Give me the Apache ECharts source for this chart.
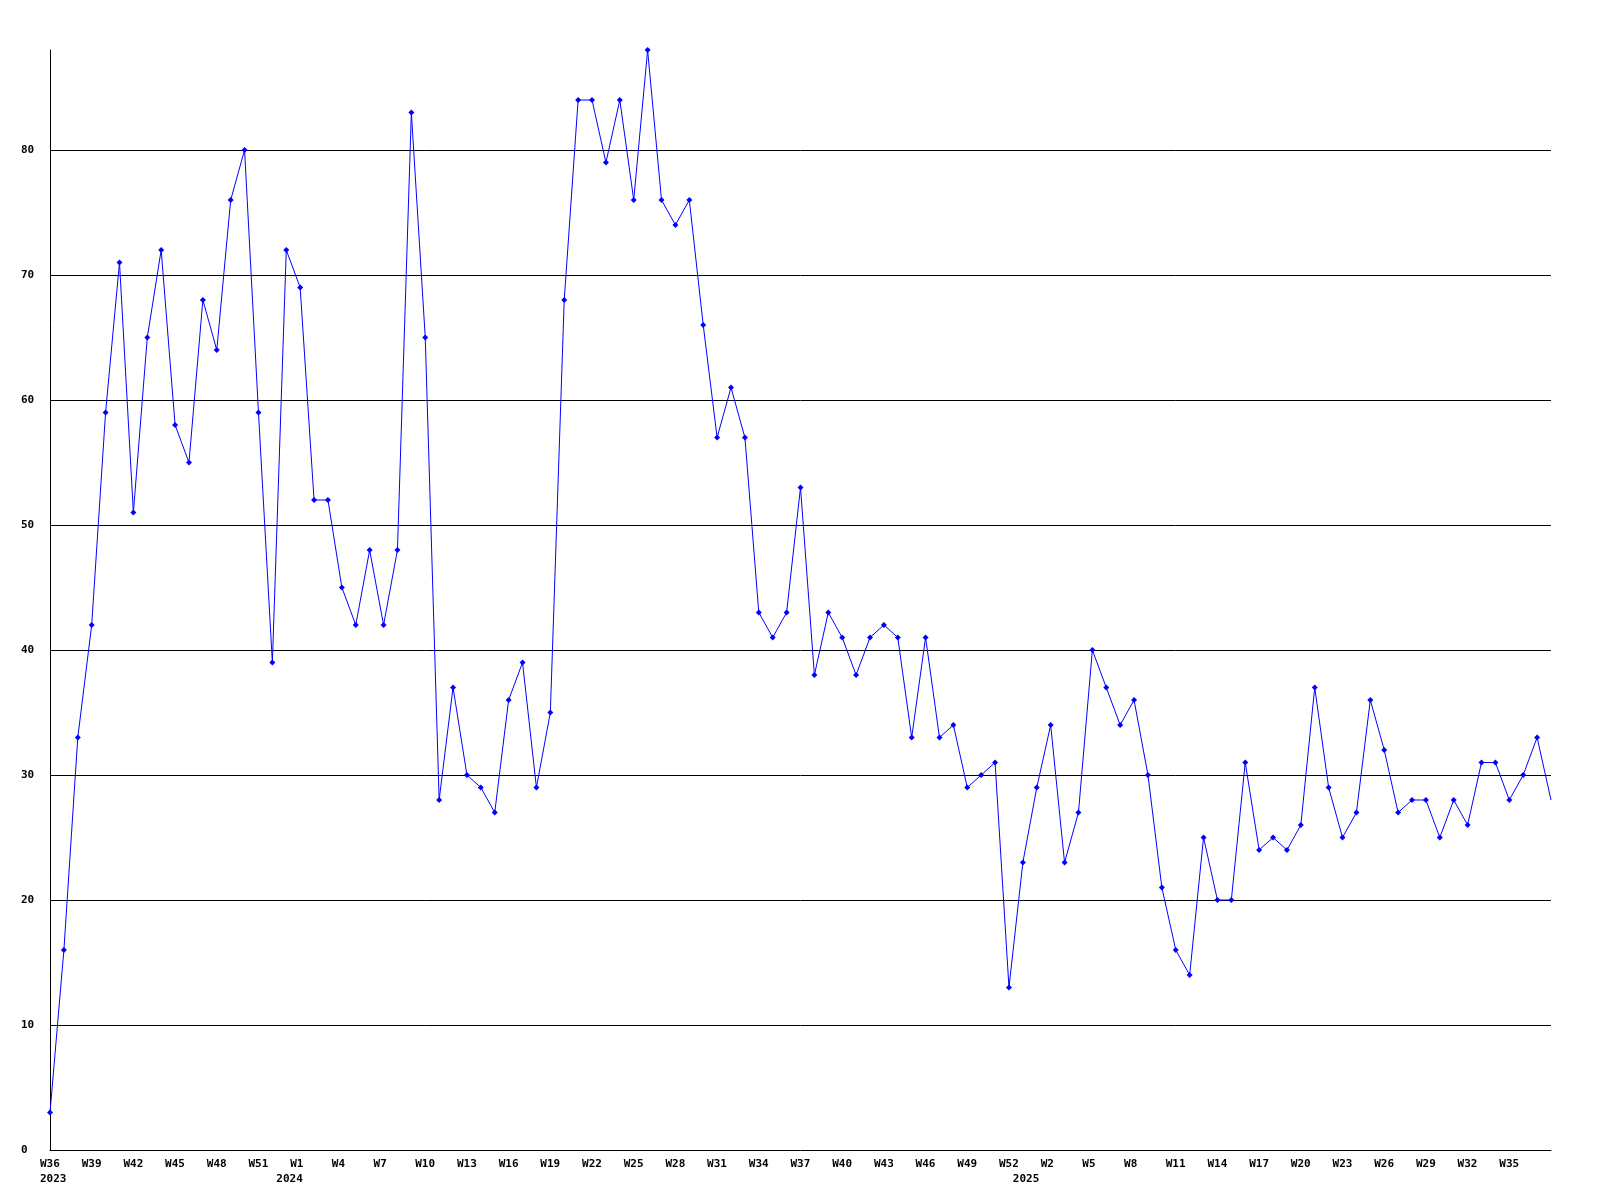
<!DOCTYPE html>
<html>
<head>
<meta charset="utf-8">
<script src="https://cdn.jsdelivr.net/npm/echarts@6/dist/echarts.min.js"></script>
<style>
  html, body { margin: 0; padding: 0; background: #ffffff; }
  #chart { width: 1600px; height: 1200px; }
</style>
</head>
<body>
<div id="chart"></div>
<script>
// Week periods: [year, first week, last week]
const periods = [[2023, 36, 53], [2024, 1, 53], [2025, 1, 38]];
// Year labels shown on the week containing 1 January (index in the category list)
const yearLabelIndex = { 0: '2023', 17: '2024', 70: '2025' };
// Values per week
const values = [
  3, 16, 33, 42, 59, 71, 51, 65, 72, 58, 55, 68, 64, 76, 80, 59, 39, 72,
  69, 52, 52, 45, 42, 48, 42, 48, 83, 65, 28, 37, 30, 29, 27, 36, 39, 29, 35, 68,
  84, 84, 79, 84, 76, 88, 76, 74, 76, 66, 57, 61, 57, 43, 41, 43, 53, 38, 43, 41,
  38, 41, 42, 41, 33, 41, 33, 34, 29, 30, 31, 13, 23,
  29, 34, 23, 27, 40, 37, 34, 36, 30, 21, 16, 14, 25, 20, 20, 31, 24, 25, 24, 26,
  37, 29, 25, 27, 36, 32, 27, 28, 28, 25, 28, 26, 31, 31, 28, 30, 33, 28
];

const categories = [];
periods.forEach(([y, a, b]) => { for (let w = a; w <= b; w++) categories.push('W' + w); });

const seriesData = values.map((v, i) => i === values.length - 1 ? { value: v, symbol: 'none' } : v);

const font = '"DejaVu Sans Mono", "Liberation Mono", monospace';
const chart = echarts.init(document.getElementById('chart'), null, { renderer: 'canvas' });
chart.setOption({
  backgroundColor: '#ffffff',
  animation: false,
  grid: [
    { left: 50, right: 49, top: 50, bottom: 50 },
    { left: 40, right: 59, top: 50, bottom: 50 }
  ],
  xAxis: [
    {
      type: 'category', gridIndex: 0, data: categories, boundaryGap: false,
      axisLine: { show: true, onZero: false, lineStyle: { color: '#000', width: 1 } },
      axisTick: { show: false }, axisLabel: { show: false }, splitLine: { show: false }
    },
    {
      type: 'category', gridIndex: 1, data: categories, boundaryGap: false,
      axisLine: { show: false }, axisTick: { show: false }, splitLine: { show: false },
      axisLabel: {
        show: true, interval: 0, align: 'left', margin: 7,
        fontFamily: font, fontWeight: 'bold', fontSize: 11, lineHeight: 15, color: '#000',
        formatter: (val, idx) => {
          if (idx === categories.length - 1) return '';
          const wk = idx % 3 === 0 ? val : ' ';
          const yr = yearLabelIndex[idx];
          if (yr) return wk + '\n' + yr;
          return idx % 3 === 0 ? val : '';
        }
      }
    }
  ],
  yAxis: [
    {
      type: 'value', gridIndex: 0, min: 0, max: 88, interval: 10,
      axisLine: { show: true, lineStyle: { color: '#000', width: 1 } },
      axisTick: { show: false },
      axisLabel: {
        align: 'left', margin: 29, color: '#000',
        fontFamily: font, fontWeight: 'bold', fontSize: 11,
        formatter: v => (v % 10 === 0 ? String(v) : '')
      },
      splitLine: { show: true, showMinLine: false, showMaxLine: false, lineStyle: { color: '#000', width: 1 } }
    },
    {
      type: 'value', gridIndex: 1, min: 0, max: 88, show: false
    }
  ],
  series: [{
    type: 'line', xAxisIndex: 0, yAxisIndex: 0,
    data: seriesData,
    symbol: 'diamond', symbolSize: 6, showAllSymbol: true,
    lineStyle: { color: '#0000ff', width: 1 },
    itemStyle: { color: '#0000ff' },
    emphasis: { disabled: true }
  }]
});
</script>
</body>
</html>
